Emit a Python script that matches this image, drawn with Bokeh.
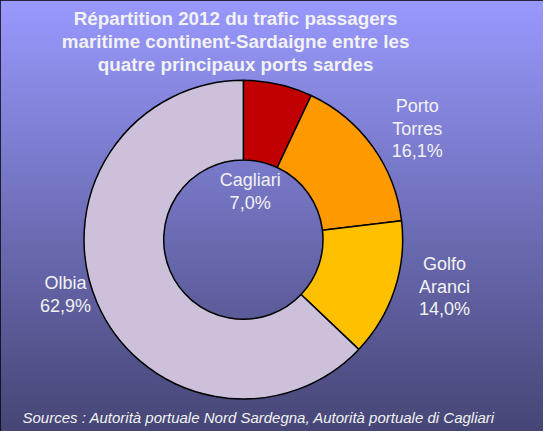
import numpy as np
from bokeh.plotting import figure
from bokeh.models import Range1d, ColumnDataSource
from bokeh.embed import file_html
from bokeh.resources import INLINE
from bokeh.core.properties import value

# ---- data ----
ports = ["Cagliari", "Porto Torres", "Golfo Aranci", "Olbia"]
shares = [7.0, 16.1, 14.0, 62.9]
colors = ["#C00000", "#FF9900", "#FFC000", "#CCC0DA"]
title_lines = ["Répartition 2012 du trafic passagers",
               "maritime continent-Sardaigne entre les",
               "quatre principaux ports sardes"]
source_text = "Sources : Autorità portuale Nord Sardegna, Autorità portuale di Cagliari"

# ---- layout (reference pixel space 559 x 447) ----
W, H = 559, 447
FW, FH = 543, 431
cx, cy = 250, 248
r_out, r_in = 164, 82

def fy(y):
    return H - y

p = figure(width=FW, height=FH, output_backend="svg", toolbar_location=None,
           x_range=Range1d(0, W), y_range=Range1d(0, H), min_border=0)
p.axis.visible = False
p.grid.visible = False
p.outline_line_color = "black"
p.outline_line_width = 2
p.background_fill_color = "#7a7ac8"
p.border_fill_color = "#7a7ac8"

# gradient background
top = np.array([153, 153, 255], dtype=float)
bot = np.array([70, 70, 118], dtype=float)
rows = H
img = np.zeros((rows, 2), dtype=np.uint32)
view = img.view(dtype=np.uint8).reshape((rows, 2, 4))
for i in range(rows):
    t = i / (rows - 1)  # row 0 = bottom
    c = bot * (1 - t) + top * t
    view[i, :, 0] = int(c[0]); view[i, :, 1] = int(c[1]); view[i, :, 2] = int(c[2]); view[i, :, 3] = 255
p.image_rgba(image=[img], x=0, y=0, dw=W, dh=H)

# donut
frac = np.array(shares) / sum(shares)
cum = np.concatenate([[0], np.cumsum(frac)])
start = np.pi / 2 - 2 * np.pi * cum[:-1]
end = np.pi / 2 - 2 * np.pi * cum[1:]
src = ColumnDataSource(dict(start=start, end=end, color=colors))
p.annular_wedge(x=cx, y=fy(cy), inner_radius=r_in, outer_radius=r_out,
                start_angle="start", end_angle="end", direction="clock",
                fill_color="color", line_color="black", line_width=1.5, source=src)

# labels
def fmt(v):
    return f"{v:.1f}".replace(".", ",") + "%"

label_pos = [(257, 198), (429, 133), (457, 297), (67, 305)]
lab_text = []
for name, v in zip(ports, shares):
    lab_text.append(name.replace(" ", "\n") + "\n" + fmt(v))
lsrc = ColumnDataSource(dict(x=[q[0] for q in label_pos], y=[fy(q[1]) for q in label_pos], t=lab_text))
p.text(x="x", y="y", text="t", source=lsrc, text_align="center", text_baseline="middle",
       text_font=value("Liberation Sans"), text_font_size="18px", text_color="#F2F2F2",
       text_line_height=1.13)

# title
ty = [19, 43, 66.5]
p.text(x=[242] * 3, y=[fy(v) for v in ty], text=title_lines, text_align="center",
       text_baseline="middle", text_font=value("Liberation Sans"), text_font_style="bold",
       text_font_size="18.8px", text_color="#F2F2F2")

# sources
p.text(x=[266], y=[fy(432)], text=[source_text], text_align="center", text_baseline="middle",
       text_font=value("Liberation Sans"), text_font_style="italic", text_font_size="15px",
       text_color="#F2F2F2")

open("out.html", "w").write(file_html(p, INLINE))
